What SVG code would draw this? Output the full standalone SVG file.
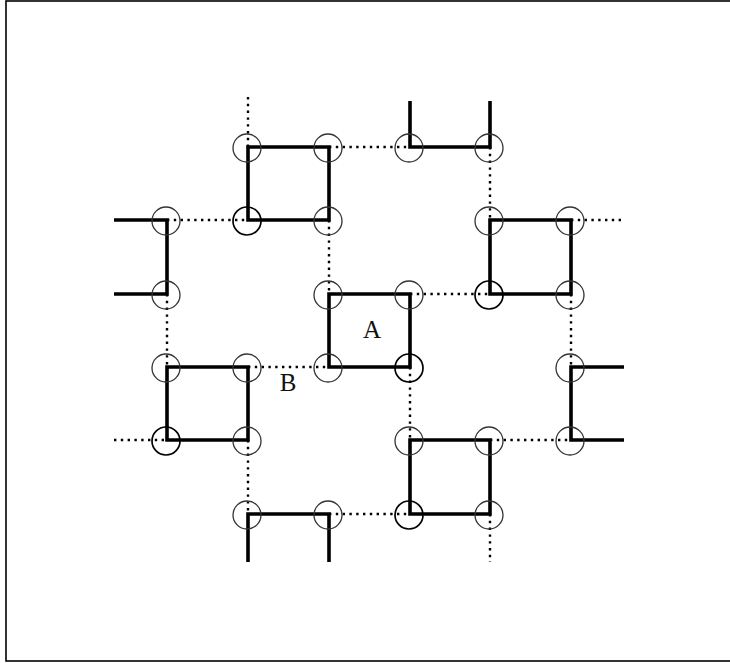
<svg xmlns="http://www.w3.org/2000/svg" width="730" height="663" viewBox="0 0 730 663">
<style>
.solid{fill:none;stroke:#000;stroke-width:3.6;stroke-linecap:butt;stroke-linejoin:miter}
.dot{fill:none;stroke:#000;stroke-width:2.4;stroke-dasharray:2.4 4.4}
.c{fill:none;stroke:#333;stroke-width:1.3}
.cb{fill:none;stroke:#000;stroke-width:1.7}
.lbl{font-family:"Liberation Serif",serif;font-size:25px;fill:#111;text-anchor:middle}
</style>
<rect x="6" y="1" width="740" height="660" fill="#fff" stroke="#000" stroke-width="1.6"/>
<g id="connectors">
<path class="dot" d="M248,97V147 M329,147H410 M490,147V220 M571,220H625 M167,220H248 M329,220V294 M167,294V367 M410,294H490 M571,294V367 M248,367H329 M410,367V440 M114,440H167 M248,440V514 M490,440H571 M329,514H410 M490,514V562"/>
</g>
<g id="sq1"><path class="solid" d="M248,147H329V220H248Z"/></g>
<g id="sqA"><path class="solid" d="M329,294H410V367H329Z"/></g>
<g id="sq3"><path class="solid" d="M490,220H571V294H490Z"/></g>
<g id="sq4"><path class="solid" d="M167,367H248V440H167Z"/></g>
<g id="sq5"><path class="solid" d="M410,440H490V514H410Z"/></g>
<g id="top"><path class="solid" d="M410,101V147H490V101"/></g>
<g id="left"><path class="solid" d="M114,220H167V294H114"/></g>
<g id="right"><path class="solid" d="M624,367H571V440H624"/></g>
<g id="bottom"><path class="solid" d="M248,562V514H329V562"/></g>
<g id="circles">
<circle class="c" cx="247" cy="148" r="14"/>
<circle class="c" cx="328" cy="148" r="14"/>
<circle class="c" cx="409" cy="148" r="14"/>
<circle class="c" cx="489" cy="148" r="14"/>
<circle class="c" cx="166" cy="221" r="14"/>
<circle class="cb" cx="247" cy="221" r="14"/>
<circle class="c" cx="328" cy="221" r="14"/>
<circle class="c" cx="489" cy="221" r="14"/>
<circle class="c" cx="570" cy="221" r="14"/>
<circle class="c" cx="166" cy="295" r="14"/>
<circle class="c" cx="328" cy="295" r="14"/>
<circle class="c" cx="409" cy="295" r="14"/>
<circle class="cb" cx="489" cy="295" r="14"/>
<circle class="c" cx="570" cy="295" r="14"/>
<circle class="c" cx="166" cy="368" r="14"/>
<circle class="c" cx="247" cy="368" r="14"/>
<circle class="c" cx="328" cy="368" r="14"/>
<circle class="cb" cx="409" cy="368" r="14"/>
<circle class="c" cx="570" cy="368" r="14"/>
<circle class="cb" cx="166" cy="441" r="14"/>
<circle class="c" cx="247" cy="441" r="14"/>
<circle class="c" cx="409" cy="441" r="14"/>
<circle class="c" cx="489" cy="441" r="14"/>
<circle class="c" cx="570" cy="441" r="14"/>
<circle class="c" cx="247" cy="515" r="14"/>
<circle class="c" cx="328" cy="515" r="14"/>
<circle class="cb" cx="409" cy="515" r="14"/>
<circle class="c" cx="489" cy="515" r="14"/>
</g>
<g id="labels">
<text class="lbl" x="372" y="338">A</text>
<text class="lbl" x="288" y="391">B</text>
</g>
</svg>
